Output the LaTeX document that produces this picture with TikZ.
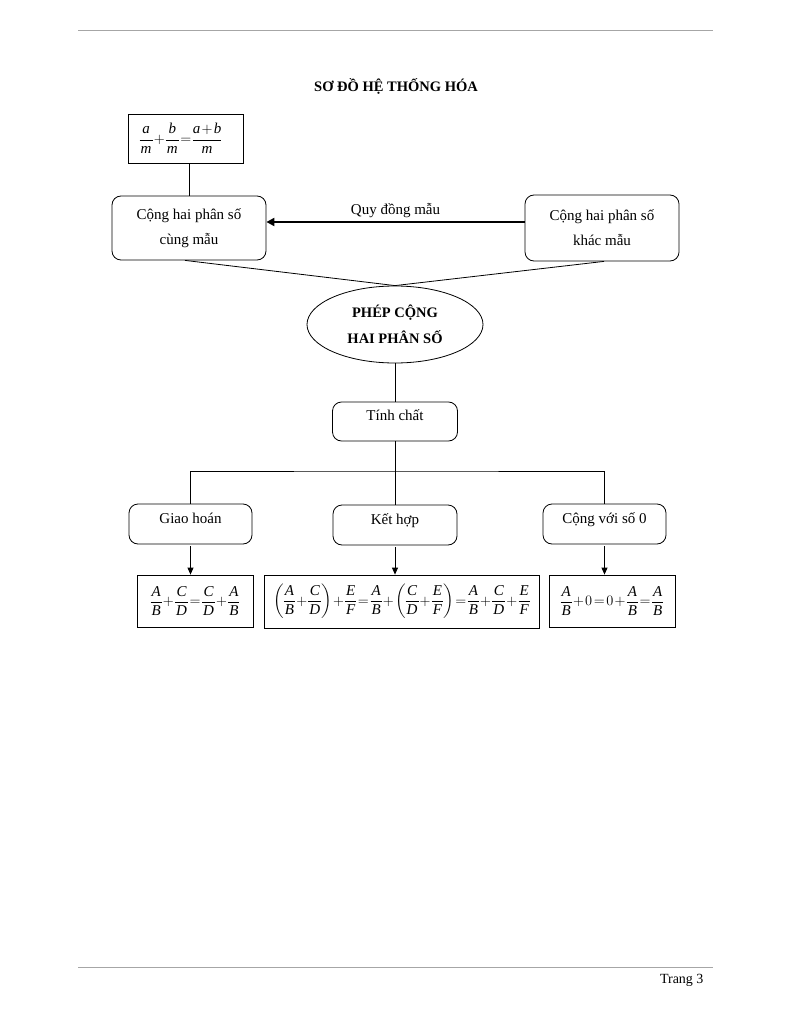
\documentclass[tikz,border=0pt]{standalone}
\usepackage{fontspec}
\setmainfont{Liberation Serif}
\usepackage{amsmath}
\usetikzlibrary{shapes.geometric,arrows.meta}
\newcommand\vi[1]{\textit{#1}}
\newcommand\fr[2]{\dfrac{\hspace{1pt}\vi{#1}\hspace{1pt}}{\hspace{1pt}\vi{#2}\hspace{1pt}}}
\newcommand\tightmath{\medmuskip=1.5mu\thickmuskip=2mu\nulldelimiterspace=0pt}
\begin{document}
\begin{tikzpicture}[x=1pt,y=-1pt,
  base/.style={draw, line width=0.8pt, align=center, inner sep=0pt, font=\fontsize{15}{25}\selectfont\tightmath},
  rbox/.style={base, rounded corners=9pt},
  sbox/.style={rbox, text height=11pt, text depth=13pt},
  fbox/.style={base},
  link/.style={line width=0.8pt},
  arr/.style={line width=0.8pt, -{Triangle[length=7pt,width=6pt]}, shorten <=2pt},
  rule/.style={draw=black!35, line width=0.8pt}
]
\useasboundingbox (0,0) rectangle (792,1024);
\draw[rule] (78,30) -- (713,30);
\draw[rule] (78,967) -- (713,967);
\node[font=\fontsize{14.5}{17}\selectfont\bfseries] (title) at (396,86) {SƠ ĐỒ HỆ THỐNG HÓA};
\node[anchor=east, font=\fontsize{14}{16}\selectfont] (pg) at (707,980) {Trang 3};

\node[fbox, minimum width=115pt, minimum height=49pt] (f1) at (185.5,138.5)
  {$\fr{a}{m}+\fr{b}{m}=\dfrac{\vi{a}+\vi{b}}{\vi{m}}$\hspace{10pt}};

\node[rbox, minimum width=154pt, minimum height=64pt] (L) at (189,228) {Cộng hai phân số\\cùng mẫu};
\node[rbox, minimum width=154pt, minimum height=66pt] (R) at (602,228) {Cộng hai phân số\\khác mẫu};
\node[base, ellipse, minimum width=176pt, minimum height=77pt, font=\fontsize{14.5}{26}\selectfont\bfseries] (E) at (395,324.5) {PHÉP CỘNG\\HAI PHÂN SỐ};
\node[sbox, minimum width=125pt, minimum height=39pt] (T) at (395,421.5) {Tính chất};
\node[sbox, minimum width=123pt, minimum height=40pt] (G) at (190.5,524) {Giao hoán};
\node[sbox, minimum width=124pt, minimum height=40pt] (K) at (395,525) {Kết hợp};
\node[sbox, minimum width=123pt, minimum height=40pt] (C) at (604.5,524) {Cộng với số 0};

\node[fbox, minimum width=116pt, minimum height=52pt] (GF) at (195,601)
  {$\fr{A}{B}+\fr{C}{D}=\fr{C}{D}+\fr{A}{B}$};
\node[fbox, minimum width=275pt, minimum height=53pt] (KF) at (401.5,601.5)
  {$\left(\fr{A}{B}+\fr{C}{D}\right)+\fr{E}{F}=\fr{A}{B}+\left(\fr{C}{D}+\fr{E}{F}\right)=\fr{A}{B}+\fr{C}{D}+\fr{E}{F}$};
\node[fbox, minimum width=126pt, minimum height=52pt] (CF) at (612,601)
  {$\fr{A}{B}+0=0+\fr{A}{B}=\fr{A}{B}$};

\coordinate (hub) at (395,471);

\draw[link] (L.north) -- (L.north |- f1.south);
\draw[line width=2.8pt, -{Triangle[length=8pt,width=8pt]}] ([yshift=6pt]R.west) -- ([yshift=6pt]L.east)
  node[pos=0.5, above=0pt, font=\fontsize{15}{18}\selectfont] (q) {Quy đồng mẫu};
\draw[link] ([xshift=-4pt]L.south) -- (E.north);
\draw[link] ([xshift=2pt]R.south) -- (E.north);
\draw[link] (E.south) -- (T.north);
\draw[link] (T.south) -- (K.north);
\draw[link] (G.north) |- (hub) -| (C.north);
\draw[arr] (G.south) -- (G.south |- GF.north);
\draw[arr] (K.south) -- (K.south |- KF.north);
\draw[arr] (C.south) -- (C.south |- CF.north);
\end{tikzpicture}
\end{document}
